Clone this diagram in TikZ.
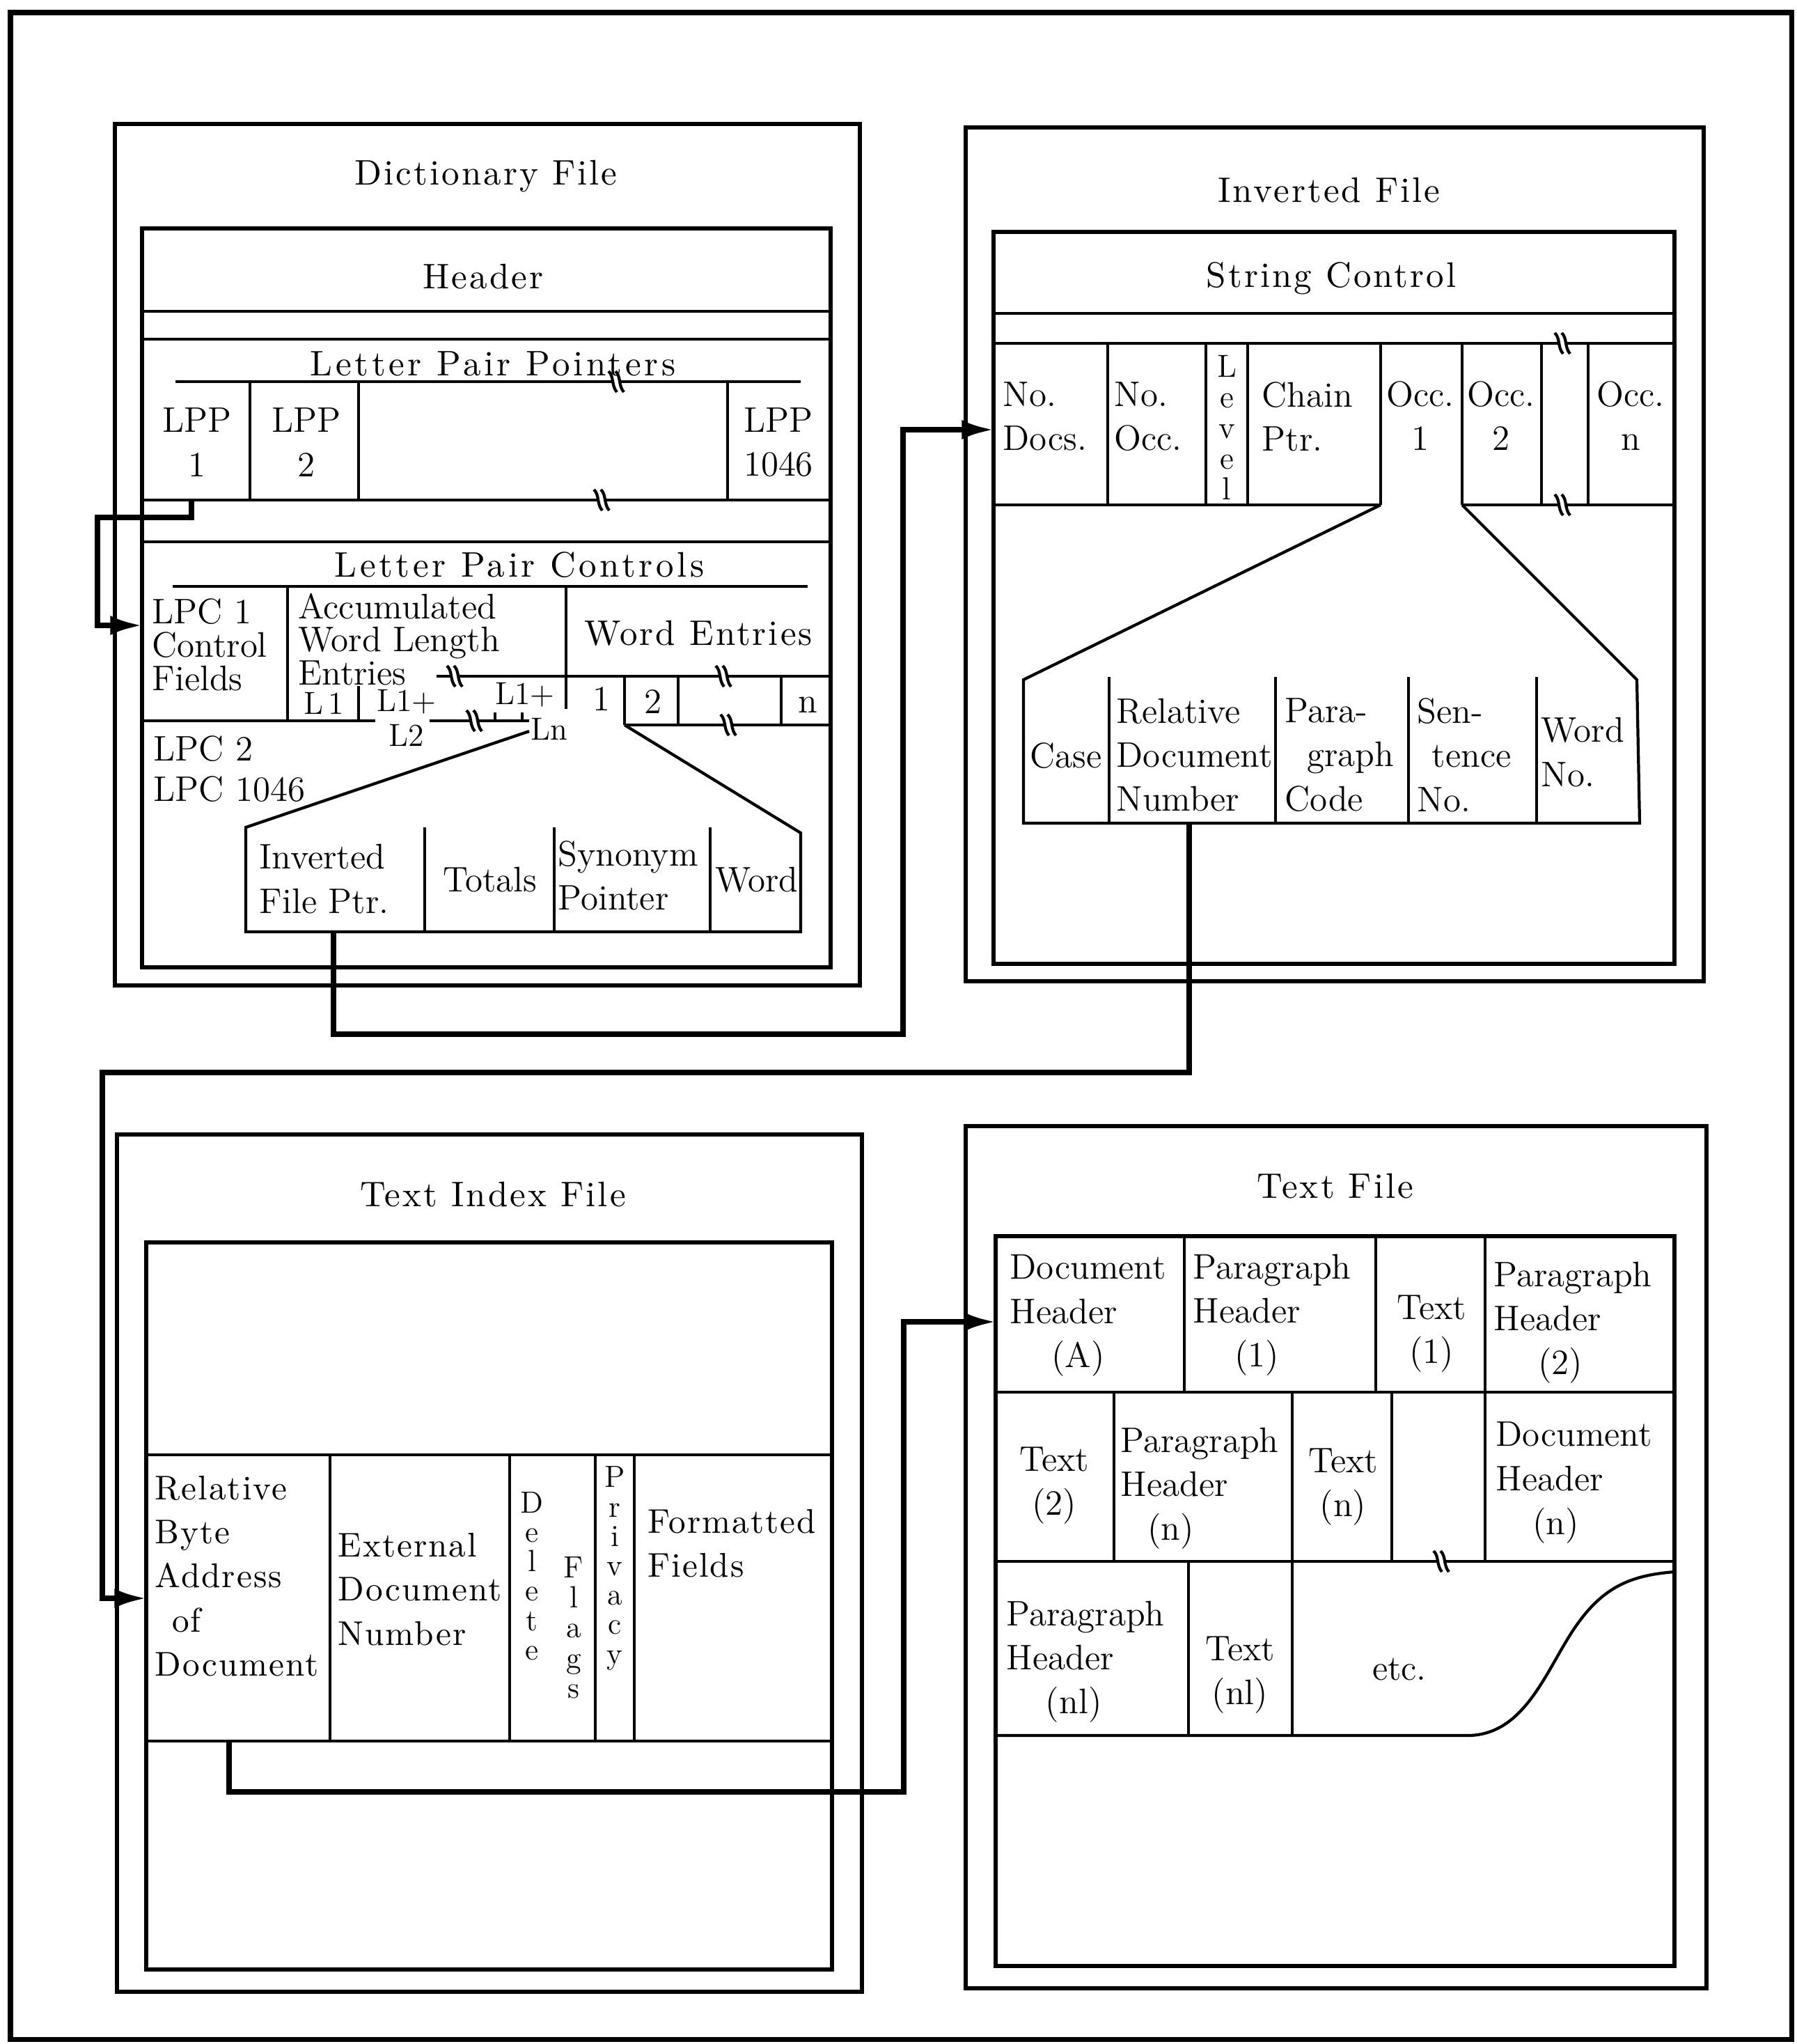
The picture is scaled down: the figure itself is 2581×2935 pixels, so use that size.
\documentclass[tikz,border=0pt]{standalone}
\usepackage{fontspec}
\newfontfamily\spacedrm{lmroman10-regular.otf}[LetterSpace=6]
\newfontfamily\widerm{lmroman10-regular.otf}[LetterSpace=9]
\newfontfamily\cellrm{lmroman10-regular.otf}[LetterSpace=4]
\usepackage{tikz}
\usetikzlibrary{arrows.meta, positioning, calc}

\begin{document}
\begin{tikzpicture}[
    x=0.01cm, y=-0.01cm,
    % Styles
    outer_box/.style={draw, line width=2pt},
    file_box/.style={draw, line width=1.8pt},
    rec_box/.style={draw, line width=1.5pt},
    cell_line/.style={line width=1.2pt},
    lbl/.style={inner sep=0pt, align=center,
      font=\fontsize{14.5}{18}\selectfont},
    lbl_left/.style={lbl, align=left, anchor=west},
    lbl_tight/.style={lbl_left, font=\fontsize{14.5}{13.6}\selectfont},
    lbl_small/.style={lbl, font=\fontsize{13}{15}\selectfont},
    lbl_spaced/.style={lbl_left, font=\cellrm\fontsize{14}{18}\selectfont},
    title_lbl/.style={lbl, font=\spacedrm\fontsize{14.5}{18}\selectfont},
    wide_title/.style={lbl, font=\widerm\fontsize{14.5}{18}\selectfont},
    vert_text/.style={lbl, font=\fontsize{12.5}{12}\selectfont},
    link_arrow/.style={line width=2.2pt, -{Latex[length=13pt, width=8pt]}},
    brk/.pic={
      \fill[white] (-7,-6) rectangle (5,6);
      \draw[line width=1.2pt] (-13,-15) .. controls (-5,-8) and (-9,6) .. (-1,15);
      \draw[line width=1.2pt] (-3,-15) .. controls (5,-8) and (1,6) .. (9,15);
    }
  ]

  \useasboundingbox (0,0) rectangle (2581,2935);
  \draw[outer_box] (15,18) rectangle (2573,2928);

  % --- 1. DICTIONARY FILE ---
  \draw[file_box] (165,178) rectangle (1235,1415);
  \draw[rec_box] (204,328) rectangle (1193,1389);
  \node[title_lbl] (dict_title) at (698,253) {Dictionary File};
  \node[title_lbl] (dict_header) at (694,397) {Header};
  \draw[cell_line] (204,447) -- (1193,447);
  \draw[cell_line] (204,487) -- (1193,487);

  % Letter pair pointers
  \node[wide_title] (lpp_title) at (708,522) {Letter Pair Pointers};
  \draw[cell_line] (252,548) -- (1150,548);
  \foreach \xx in {359,515,1045} \draw[cell_line] (\xx,548) -- (\xx,718);
  \draw[cell_line] (204,718) -- (1193,718);
  \pic at (887,548) {brk};
  \pic at (866,718) {brk};
  \node[lbl] (lpp_1) at (283,635) {LPP\\1};
  \node[lbl] (lpp_2) at (440,635) {LPP\\2};
  \node[lbl] (lpp_1046) at (1118,635) {LPP\\1046};
  \draw[cell_line] (204,778) -- (1193,778);

  % Letter pair controls
  \node[wide_title] (lpc_title) at (746,811) {Letter Pair Controls};
  \draw[cell_line] (248,842) -- (1160,842);
  \draw[cell_line] (413,842) -- (413,1035);
  \draw[cell_line] (813,842) -- (813,1018);
  \draw[cell_line] (204,1035) -- (539,1035);
  \draw[cell_line] (515,985) -- (515,1035);
  \draw[cell_line] (617,1035) -- (760,1035);
  \draw[cell_line] (711,1023) -- (711,1035);
  \draw[cell_line] (750,1023) -- (750,1035);
  \draw[cell_line] (627,971) -- (1193,971);
  \foreach \xx in {897,974,1122} \draw[cell_line] (\xx,971) -- (\xx,1041);
  \draw[cell_line] (897,1041) -- (1193,1041);
  \pic at (655,971) {brk};
  \pic at (1041,971) {brk};
  \pic at (683,1035) {brk};
  \pic at (1048,1041) {brk};
  \node[lbl_tight] (lpc_1) at (218,926) {LPC 1\\Control\\Fields};
  \node[lbl_tight] (acc_len) at (428,918) {Accumulated\\Word Length\\Entries};
  \node[title_lbl] (word_entries) at (1003,909) {Word Entries};
  \node[lbl_small] (len_1) at (465,1010) {L\,1};
  \node[lbl_small] (len_2) at (584,1008) {L1+};
  \node[lbl_small] (len_2b) at (584,1056) {L2};
  \node[lbl_small] (len_n) at (754,998) {L1+};
  \node[lbl_small] (len_nb) at (789,1047) {Ln};
  \node[lbl] (ent_1) at (864,1004) {1};
  \node[lbl] (ent_2) at (938,1008) {2};
  \node[lbl] (ent_n) at (1160,1012) {n};
  \node[lbl_left] (lpc_2) at (220,1075) {LPC 2};
  \node[lbl_left] (lpc_1046) at (220,1133) {LPC 1046};

  % Word entry, expanded
  \draw[cell_line] (760,1050) -- (353,1188) -- (353,1338) -- (1150,1338) -- (1150,1196) -- (897,1041);
  \foreach \xx in {610,796,1020} \draw[cell_line] (\xx,1188) -- (\xx,1338);
  \node[lbl_left] (inv_ptr) at (372,1262) {Inverted\\File Ptr.};
  \node[lbl] (totals) at (704,1263) {Totals};
  \node[lbl_left] (syn_ptr) at (801,1257) {Synonym\\Pointer};
  \node[lbl] (word) at (1087,1263) {Word};

  % --- 2. INVERTED FILE ---
  \draw[file_box] (1387,183) rectangle (2447,1409);
  \draw[rec_box] (1427,333) rectangle (2405,1384);
  \node[title_lbl] (inv_title) at (1909,273) {Inverted File};
  \node[title_lbl] (str_ctrl) at (1912,400) {String Control};
  \draw[cell_line] (1427,450) -- (2405,450);
  \draw[cell_line] (1427,493) -- (2405,493);
  \foreach \xx in {1591,1732,1792,1983,2100,2214,2281} \draw[cell_line] (\xx,493) -- (\xx,725);
  \draw[cell_line] (1427,725) -- (1983,725);
  \draw[cell_line] (2100,725) -- (2405,725);
  \pic at (2246,493) {brk};
  \pic at (2246,725) {brk};
  \node[lbl_left] (no_docs) at (1440,598) {No.\\Docs.};
  \node[lbl_left] (no_occ) at (1600,598) {No.\\Occ.};
  \node[vert_text, font=\fontsize{13}{12.5}\selectfont] (level) at (1762,614) {L\\e\\v\\e\\l};
  \node[lbl_left] (chain_ptr) at (1812,598) {Chain\\Ptr.};
  \node[lbl] (occ_1) at (2040,597) {Occ.\\1};
  \node[lbl] (occ_2) at (2156,597) {Occ.\\2};
  \node[lbl] (occ_n) at (2342,597) {Occ.\\n};

  % Occurrence, expanded
  \draw[cell_line] (1983,725) -- (1470,976) -- (1470,1182) -- (2355,1182) -- (2351,976) -- (2100,725);
  \foreach \xx in {1593,1832,2023,2207} \draw[cell_line] (\xx,972) -- (\xx,1182);
  \node[lbl] (case) at (1531,1085) {Case};
  \node[lbl_left] (rel_doc) at (1603,1084) {Relative\\Document\\Number};
  \node[lbl_left] (para_code) at (1845,1084) {Para-\\\hspace*{9pt}graph\\Code};
  \node[lbl_left] (sent_no) at (2035,1084) {Sen-\\\hspace*{6pt}tence\\No.};
  \node[lbl_left] (word_no) at (2213,1080) {Word\\No.};

  % --- 3. TEXT INDEX FILE ---
  \draw[file_box] (168,1629) rectangle (1238,2860);
  \draw[rec_box] (210,1784) rectangle (1195,2828);
  \node[title_lbl] (tix_title) at (708,1715) {Text Index File};
  \draw[cell_line] (210,2089) -- (1195,2089);
  \draw[cell_line] (210,2500) -- (1195,2500);
  \foreach \xx in {474,732,855,911} \draw[cell_line] (\xx,2089) -- (\xx,2500);
  \node[lbl_spaced] (rel_byte) at (222,2263) {Relative\\Byte\\Address\\\hspace*{7pt}of\\Document};
  \node[lbl_spaced] (ext_doc) at (485,2282) {External\\Document\\Number};
  \node[vert_text] (delete) at (764,2263) {D\\e\\l\\e\\t\\e};
  \node[vert_text, font=\fontsize{12.5}{12.3}\selectfont] (flags) at (824,2337) {F\\l\\a\\g\\s};
  \node[vert_text] (privacy) at (883,2252) {P\\r\\i\\v\\a\\c\\y};
  \node[lbl_spaced] (fmt_fields) at (930,2216) {Formatted\\Fields};

  % --- 4. TEXT FILE ---
  \draw[file_box] (1387,1617) rectangle (2451,2855);
  \draw[rec_box] (1430,1775) rectangle (2405,2823);
  \node[title_lbl] (txt_title) at (1918,1703) {Text File};
  \draw[cell_line] (1430,1999) -- (2405,1999);
  \foreach \xx in {1701,1976,2133} \draw[cell_line] (\xx,1775) -- (\xx,1999);
  \draw[cell_line] (1430,2242) -- (2405,2242);
  \foreach \xx in {1600,1856,1999,2133} \draw[cell_line] (\xx,1999) -- (\xx,2242);
  \pic at (2072,2242) {brk};
  \foreach \xx in {1707,1856} \draw[cell_line] (\xx,2242) -- (\xx,2492);
  \draw[cell_line] (1430,2492) -- (2110,2492)
    .. controls (2190,2490) and (2220,2400) .. (2260,2340)
    .. controls (2300,2280) and (2340,2262) .. (2405,2257);
  \node[lbl_left] (doc_hdr_a) at (1450,1889) {Document\\Header\\\hspace*{17pt}(A)};
  \node[lbl_left] (par_hdr_1) at (1713,1888) {Paragraph\\Header\\\hspace*{17pt}(1)};
  \node[lbl] (text_1) at (2056,1915) {Text\\(1)};
  \node[lbl_left] (par_hdr_2) at (2145,1899) {Paragraph\\Header\\\hspace*{18pt}(2)};
  \node[lbl] (text_2) at (1514,2133) {Text\\(2)};
  \node[lbl_left] (par_hdr_n) at (1609,2137) {Paragraph\\Header\\\hspace*{11pt}(n)};
  \node[lbl] (text_n) at (1929,2135) {Text\\(n)};
  \node[lbl_left] (doc_hdr_n) at (2148,2129) {Document\\Header\\\hspace*{15pt}(n)};
  \node[lbl_left] (par_hdr_nl) at (1445,2386) {Paragraph\\Header\\\hspace*{16pt}(nl)};
  \node[lbl] (text_nl) at (1781,2405) {Text\\(nl)};
  \node[lbl] (etc) at (2010,2397) {etc.};

  % --- 5. LINKS ---
  \coordinate (lpp1_out) at (275,720);
  \coordinate (lpc1_in) at (204,898);
  \coordinate (ifp_out) at (479,1338);
  \coordinate (inv_in) at (1427,617);
  \coordinate (rdn_out) at (1708,1182);
  \coordinate (tix_in) at (210,2295);
  \coordinate (rba_out) at (329,2500);
  \coordinate (txt_in) at (1430,1898);

  \draw[link_arrow] (lpp1_out) -- ++(0,23) -- ++(-135,0) |- (lpc1_in);
  \draw[link_arrow] (ifp_out) -- ++(0,147) -- ++(818,0) |- (inv_in);
  \draw[link_arrow] (rdn_out) -- ++(0,358) -- ++(-1561,0) |- (tix_in);
  \draw[link_arrow] (rba_out) -- ++(0,73) -- ++(969,0) |- (txt_in);

\end{tikzpicture}
\end{document}
